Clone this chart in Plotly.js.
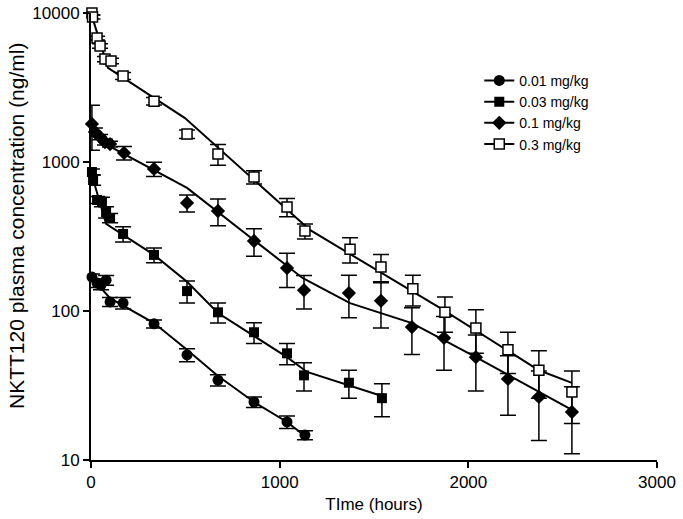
<!DOCTYPE html>
<html>
<head>
<meta charset="utf-8">
<script src="https://cdn.plot.ly/plotly-3.0.1.min.js"></script>
<style>html,body{margin:0;padding:0;background:#fff}#chart{width:683px;height:519px}</style>
</head>
<body>
<div id="chart"></div>
<script>
// ---- data ----
var doseLabels = ['0.01 mg/kg', '0.03 mg/kg', '0.1 mg/kg', '0.3 mg/kg'];
var xTitle = 'TIme (hours)';
var yTitle = 'NKTT120 plasma concentration (ng/ml)';

// 0.01 mg/kg (filled circles)
var t001 = [5, 32, 53, 80, 101, 170, 334, 509, 673, 864, 1039, 1134];
var c001 = [169, 154, 149, 161, 115, 113, 82, 50.7, 34.4, 24.5, 18, 14.7];
var e001 = [8, 10, 10, 12, 8, 10, 5, 5, 3, 2, 1.7, 1];
var fitT001 = [0, 101, 334, 509, 673, 864, 1039, 1134];
var fit001 = [169, 122, 83, 55, 36.6, 24.5, 18, 14.5];

// 0.03 mg/kg (filled squares)
var t003 = [5, 11, 32, 58, 80, 101, 170, 334, 509, 673, 864, 1039, 1129, 1367, 1542];
var c003 = [857, 757, 556, 540, 461, 421, 329, 238, 136, 98, 72, 52, 37, 33, 26];
var e003 = [40, 60, 30, 40, 40, 30, 38, 27, 23, 15, 11.5, 8.5, 8, 7, 6.5];
var fitT003 = [0, 80, 334, 509, 673, 1039, 1145, 1542];
var fit003 = [857, 384, 238, 157, 97, 49, 39, 26.9];

// 0.1 mg/kg (filled diamonds)
var t01 = [5, 21, 48, 74, 101, 175, 334, 509, 673, 864, 1039, 1129, 1367, 1537, 1701, 1871, 2040, 2210, 2374, 2549];
var c01 = [1800, 1590, 1470, 1360, 1320, 1150, 898, 531, 469, 295, 194, 138, 132, 117, 78, 66, 49, 35, 26.5, 21];
var e01 = [600, 100, 60, 60, 60, 120, 100, 70, 95, 62, 50, 35, 42, 40, 27, 26, 20, 15, 13, 10];
var fitT01 = [0, 117, 509, 1123, 1373, 1701, 2040, 2549];
var fit01 = [1800, 1240, 670, 166, 113, 83, 49, 21.7];

// 0.3 mg/kg (open squares)
var t03 = [5, 8, 32, 48, 74, 106, 170, 334, 509, 673, 864, 1039, 1134, 1373, 1537, 1706, 1876, 2040, 2210, 2374, 2549];
var c03 = [10000, 9400, 6790, 6010, 4910, 4760, 3780, 2560, 1540, 1130, 793, 499, 344, 260, 197, 141, 98, 77, 55, 40, 28.6];
var e03 = [300, 300, 200, 200, 200, 200, 200, 150, 100, 180, 80, 70, 40, 50, 42, 33, 26, 25, 17, 14, 11];
var fitT03 = [0, 90, 498, 1160, 1865, 2374, 2549];
var fit03 = [10000, 4280, 1970, 350, 102, 40, 32.9];

var xTicks = [0, 1000, 2000, 3000];
var yTicks = [10, 100, 1000, 10000];
var yTickText = ['10', '100', '1000', '10000'];

// ---- styling ----
var FONT = 'Arial, "Liberation Sans", sans-serif';
var markerStyles = [
  {symbol: 'circle', size: 11, color: '#000', line: {width: 0}},
  {symbol: 'square', size: 10, color: '#000', line: {width: 0}},
  {symbol: 'diamond', size: 11, color: '#000', line: {width: 0}},
  {symbol: 'square', size: 10, color: '#fff', line: {width: 1.5, color: '#000'}}
];
var series = [
  {t: t001, c: c001, e: e001, ft: fitT001, f: fit001},
  {t: t003, c: c003, e: e003, ft: fitT003, f: fit003},
  {t: t01, c: c01, e: e01, ft: fitT01, f: fit01},
  {t: t03, c: c03, e: e03, ft: fitT03, f: fit03}
];

var traces = [];
series.forEach(function (s, i) {
  traces.push({
    x: s.ft, y: s.f, mode: 'lines', type: 'scatter', showlegend: false,
    line: {color: '#000', width: 2}, cliponaxis: false, hoverinfo: 'skip'
  });
  traces.push({
    x: s.t, y: s.c, mode: 'markers', type: 'scatter', showlegend: false,
    marker: markerStyles[i], cliponaxis: false,
    error_y: {type: 'data', array: s.e, visible: true, color: '#000', thickness: 1.5, width: 8}
  });
});
// legend entries
doseLabels.forEach(function (lab, i) {
  traces.push({
    x: [null], y: [null], mode: 'lines+markers', type: 'scatter', name: lab,
    line: {color: '#000', width: 2}, marker: markerStyles[i]
  });
});

var layout = {
  width: 683, height: 519,
  margin: {l: 91, r: 26, t: 13, b: 59, pad: 0},
  paper_bgcolor: '#fff', plot_bgcolor: '#fff',
  font: {family: FONT, color: '#000'},
  showlegend: true,
  legend: {
    x: 0.686, y: 0.884, xanchor: 'left', yanchor: 'top',
    font: {size: 14, family: FONT, color: '#000'},
    bgcolor: 'rgba(0,0,0,0)', itemwidth: 30, tracegroupgap: 0
  },
  xaxis: {
    range: [0, 3000], showgrid: false, zeroline: false,
    showline: true, linecolor: '#000', linewidth: 2,
    ticks: 'outside', ticklen: 6, tickwidth: 2, tickcolor: '#000',
    tickmode: 'array', tickvals: xTicks, ticktext: xTicks.map(String),
    tickfont: {size: 17, family: FONT},
    title: {text: xTitle, font: {size: 17, family: FONT}, standoff: 7}
  },
  yaxis: {
    type: 'log', range: [1, 4], showgrid: false, zeroline: false,
    showline: true, linecolor: '#000', linewidth: 2,
    ticks: 'outside', ticklen: 6, tickwidth: 2, tickcolor: '#000',
    tickmode: 'array', tickvals: yTicks, ticktext: yTickText,
    tickfont: {size: 17, family: FONT}
  },
  annotations: [{
    text: yTitle, xref: 'paper', yref: 'paper',
    x: -0.1307, y: 0.5235, xanchor: 'center', yanchor: 'middle',
    textangle: -90, showarrow: false,
    font: {size: 21, family: FONT, color: '#000'}
  }]
};

Plotly.newPlot('chart', traces, layout, {displayModeBar: false, staticPlot: true});
</script>
</body>
</html>
